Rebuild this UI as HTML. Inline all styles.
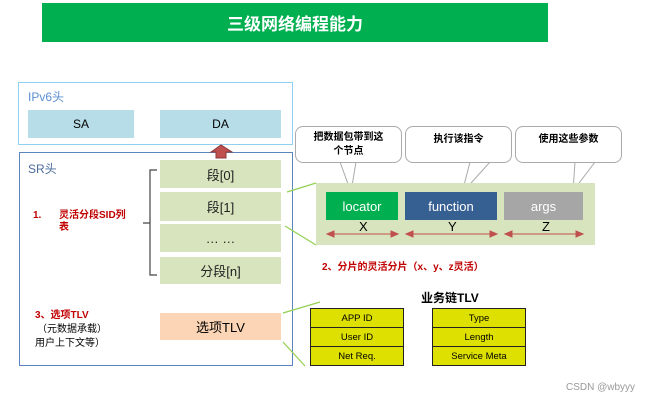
<!DOCTYPE html><html><head><meta charset="utf-8"><style>
body{margin:0;width:646px;height:400px;background:#fff;position:relative;overflow:hidden;font-family:"Liberation Sans","Noto Sans CJK SC",sans-serif}
.a{position:absolute;box-sizing:border-box}
.c{display:flex;align-items:center;justify-content:center}
.seg{background:#d7e4bd;font-size:13px;color:#222}
.red{color:#c00000;font-weight:bold;font-size:10px}
.co{border:1px solid #aaa;border-radius:8px;background:#fff;font-size:10px;font-weight:bold;text-align:center;line-height:14px}
.tb{border:1px solid #222;background:#dde000;font-size:9.5px}
.tb div{height:19px;display:flex;align-items:center;justify-content:center;border-bottom:1px solid #222;box-sizing:border-box}
.tb div:last-child{border-bottom:none}
</style></head><body>
<div class="a c" style="left:42px;top:3px;width:506px;height:39px;background:#00b050;color:#fff;font-weight:bold;font-size:17px">三级网络编程能力</div>
<div class="a" style="left:18px;top:82px;width:275px;height:63px;border:1px solid #8fd0f0"></div>
<div class="a" style="left:28px;top:88px;font-size:12px;color:#5b8fd0">IPv6头</div>
<div class="a c" style="left:28px;top:110px;width:106px;height:28px;background:#b7dde8;font-size:12px">SA</div>
<div class="a c" style="left:160px;top:110px;width:121px;height:28px;background:#b7dde8;font-size:12px">DA</div>
<div class="a" style="left:19px;top:152px;width:274px;height:214px;border:1px solid #5b84c0"></div>
<div class="a" style="left:28px;top:160px;font-size:12px;color:#4a6a9a">SR头</div>
<svg class="a" style="left:0;top:0" width="646" height="400">
<polygon points="211,152 221,145 232,152 226,152 226,158 216,158 216,152" fill="#c0504d" stroke="#8b3a3a" stroke-width="1"/>
<path d="M157,170 H150 V275 H157 M150,223 H143" fill="none" stroke="#444" stroke-width="1.2"/>
<g stroke="#92d050" stroke-width="1.2"><line x1="287" y1="192" x2="316" y2="183"/><line x1="285" y1="226" x2="316" y2="245"/><line x1="283" y1="313" x2="320" y2="302"/><line x1="283" y1="342" x2="305" y2="366"/></g>
<g stroke="#aaa" fill="#fff"><polygon points="340,162 356,162 351,192"/><polygon points="470,162 490,162 462,193"/><polygon points="575,162 595,162 573,191"/></g>
</svg>
<div class="a c seg" style="left:160px;top:160px;width:121px;height:28px">段[0]</div>
<div class="a c seg" style="left:160px;top:192px;width:121px;height:29px">段[1]</div>
<div class="a c seg" style="left:160px;top:224px;width:121px;height:28px">… …</div>
<div class="a c seg" style="left:160px;top:257px;width:121px;height:27px">分段[n]</div>
<div class="a red" style="left:33px;top:210px">1.</div>
<div class="a red" style="left:59px;top:210px;width:75px;line-height:12px">灵活分段SID列表</div>
<div class="a c" style="left:160px;top:313px;width:121px;height:27px;background:#fbd5b5;font-size:13px">选项TLV</div>
<div class="a red" style="left:35px;top:306px">3、选项TLV</div>
<div class="a" style="left:37px;top:320px;font-size:10px">（元数据承载）</div>
<div class="a" style="left:35px;top:334px;font-size:10px">用户上下文等）</div>
<div class="a" style="left:316px;top:183px;width:279px;height:62px;background:#d7e4bd"></div>
<div class="a c" style="left:326px;top:192px;width:72px;height:28px;background:#00b050;color:#fff;font-size:13px">locator</div>
<div class="a c" style="left:405px;top:192px;width:92px;height:28px;background:#376092;color:#fff;font-size:13px">function</div>
<div class="a c" style="left:504px;top:192px;width:79px;height:28px;background:#a6a6a6;color:#fff;font-size:13px">args</div>
<svg class="a" style="left:0;top:0" width="646" height="400"><g fill="#c0504d" stroke="#c0504d">
<line x1="330" y1="234" x2="394" y2="234"/><polygon points="327,234 334,231 334,237"/><polygon points="398,234 391,231 391,237"/>
<line x1="409" y1="234" x2="493" y2="234"/><polygon points="406,234 413,231 413,237"/><polygon points="497,234 490,231 490,237"/>
<line x1="508" y1="234" x2="579" y2="234"/><polygon points="505,234 512,231 512,237"/><polygon points="583,234 576,231 576,237"/></g></svg>
<div class="a" style="left:359px;top:219px;font-size:13px">X</div>
<div class="a" style="left:448px;top:219px;font-size:13px">Y</div>
<div class="a" style="left:542px;top:219px;font-size:13px">Z</div>
<div class="a co c" style="left:295px;top:126px;width:107px;height:37px">把数据包带到这<br>个节点</div>
<div class="a co c" style="left:405px;top:126px;width:107px;height:37px;padding-bottom:10px">执行该指令</div>
<div class="a co c" style="left:515px;top:126px;width:107px;height:37px;padding-bottom:10px">使用这些参数</div>
<div class="a red" style="left:322px;top:258px">2、分片的灵活分片（x、y、z灵活）</div>
<div class="a" style="left:421px;top:289px;font-size:12px;font-weight:bold">业务链TLV</div>
<div class="a tb" style="left:310px;top:308px;width:94px;height:58px"><div>APP ID</div><div>User ID</div><div>Net Req.</div></div>
<div class="a tb" style="left:432px;top:308px;width:94px;height:58px"><div>Type</div><div>Length</div><div>Service Meta</div></div>
<div class="a" style="left:566px;top:382px;font-size:10px;color:#999">CSDN @wbyyy</div>
</body></html>
